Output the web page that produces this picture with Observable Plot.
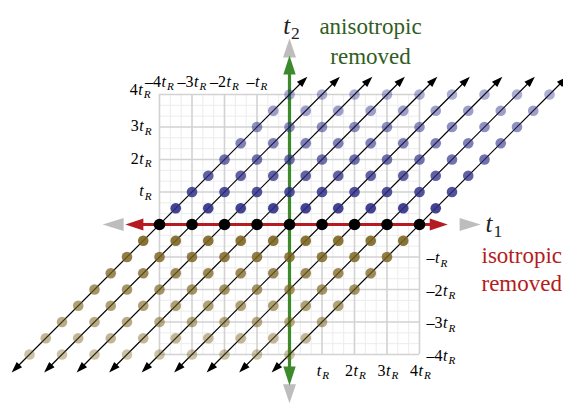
<!DOCTYPE html>
<html><head><meta charset="utf-8">
<script src="https://cdn.jsdelivr.net/npm/d3@7"></script>
<script src="https://cdn.jsdelivr.net/npm/@observablehq/plot@0.6"></script>
<style>html,body{margin:0;padding:0;background:#fff;overflow:hidden}</style>
</head><body><div id="chart"></div>
<script>
// ---- data ----
const lineOffsets = [-4, -3, -2, -1, 0, 1, 2, 3, 4];
const steps = [-4, -3.5, -3, -2.5, -2, -1.5, -1, -0.5, 0, 0.5, 1, 1.5, 2, 2.5, 3, 3.5, 4];
const gridMajor = [-4, -3, -2, -1, 0, 1, 2, 3, 4];
const gridMinor = d3.range(-12, 13).filter(i => i % 3 !== 0).map(i => i / 3);
const leftTickValues = [1, 2, 3, 4];
const leftTickLabels = ["t_R", "2t_R", "3t_R", "4t_R"];
const topTickValues = [-4, -3, -2, -1];
const topTickLabels = ["–4t_R", "–3t_R", "–2t_R", "–t_R"];
const rightTickValues = [-1, -2, -3, -4];
const rightTickLabels = ["–t_R", "–2t_R", "–3t_R", "–4t_R"];
const bottomTickValues = [1, 2, 3, 4];
const bottomTickLabels = ["t_R", "2t_R", "3t_R", "4t_R"];
const lineReach = 4.55;
const isoAxis = [-5.05, 4.87];
const isoGrey = [-5.75, 5.88];
const anisoAxis = [-4.95, 5.2];
const anisoGrey = [-5.5, 5.72];

// ---- derived tables ----
const points = lineOffsets.flatMap(k => steps.map(s => ({k, s, t1: k + s, t2: s})));
const lattice = points.filter(d => d.s !== 0);
const origins = points.filter(d => d.s === 0);

const BLUE = "#2e2e85", OLIVE = "#7a6420", RED = "#b41c22", GREEN = "#3d8a2c", GREY = "#bdbdbd";
const SERIF = "Liberation Serif";

function head(ux, uy, len, hw) {
  return {draw(ctx) {
    const bx = -ux * len, by = -uy * len, px = -uy * hw, py = ux * hw;
    ctx.moveTo(0, 0); ctx.lineTo(bx + px, by + py); ctx.lineTo(bx - px, by - py); ctx.closePath();
  }};
}
const R2 = Math.SQRT1_2;
const headUR = head(R2, -R2, 11, 3.8), headDL = head(-R2, R2, 11, 3.8);
function headDot(rows, sym, fill) {
  return Plot.dot(rows, {x: "x", y: "y", r: 1, symbol: sym, fill, stroke: "none"});
}
const d = 0.15;

const unit = 32.5;
const plot = Plot.plot({
  width: 563, height: 406,
  marginTop: 0, marginRight: 0, marginBottom: 0, marginLeft: 0,
  x: {domain: [-289 / unit, 274 / unit], axis: null},
  y: {domain: [-182 / unit, 224 / unit], axis: null},
  opacity: {type: "identity"},
  style: {background: "#fff"},
  marks: [
    // grid
    Plot.ruleX(gridMinor, {x: v => v, y1: -4, y2: 4, stroke: "#ececec", strokeWidth: 1}),
    Plot.ruleY(gridMinor, {y: v => v, x1: -4, x2: 4, stroke: "#ececec", strokeWidth: 1}),
    Plot.ruleX(gridMajor, {x: v => v, y1: -4, y2: 4, stroke: "#d2d2d2", strokeWidth: 1.6}),
    Plot.ruleY(gridMajor, {y: v => v, x1: -4, x2: 4, stroke: "#d2d2d2", strokeWidth: 1.6}),
    // grey axis heads
    headDot([{x: isoGrey[0], y: 0}], head(-1, 0, 21, 6.5), GREY),
    headDot([{x: isoGrey[1], y: 0}], head(1, 0, 21, 6.5), GREY),
    headDot([{x: 0, y: anisoGrey[1]}], head(0, -1, 19, 6.5), GREY),
    headDot([{x: 0, y: anisoGrey[0]}], head(0, 1, 19, 6.5), GREY),
    // isotropic (red) axis
    Plot.ruleY([0], {x1: isoAxis[0] + 0.45, x2: isoAxis[1] - 0.45, stroke: RED, strokeWidth: 3}),
    headDot([{x: isoAxis[0], y: 0}], head(-1, 0, 18, 6), RED),
    headDot([{x: isoAxis[1], y: 0}], head(1, 0, 18, 6), RED),
    // anisotropic (green) axis
    Plot.ruleX([0], {y1: anisoAxis[0] + 0.45, y2: anisoAxis[1] - 0.45, stroke: GREEN, strokeWidth: 3.2}),
    headDot([{x: 0, y: anisoAxis[1]}], head(0, -1, 19, 6.2), GREEN),
    headDot([{x: 0, y: anisoAxis[0]}], head(0, 1, 19, 6.2), GREEN),
    // diagonal lines
    Plot.link(lineOffsets, {
      x1: k => k - lineReach + d, y1: -lineReach + d,
      x2: k => k + lineReach - d, y2: lineReach - d,
      stroke: "#000", strokeWidth: 1.2
    }),
    headDot(lineOffsets.map(k => ({x: k + lineReach, y: lineReach})), headUR, "#000"),
    headDot(lineOffsets.map(k => ({x: k - lineReach, y: -lineReach})), headDL, "#000"),
    // lattice points
    Plot.dot(lattice, {
      x: "t1", y: "t2", r: 5.3, stroke: "none",
      fill: p => p.s > 0 ? BLUE : OLIVE,
      fillOpacity: p => 0.97 - 0.145 * Math.abs(p.s)
    }),
    Plot.dot(origins, {x: "t1", y: "t2", r: 5.8, fill: "#000", stroke: "none"}),
    // tick labels
    Plot.text(leftTickLabels, {x: -4, y: (t, i) => leftTickValues[i], text: t => t, textAnchor: "end", dx: -8, dy: -1, fontSize: 16, fontFamily: SERIF, fill: "#000", filter: (t, i) => i < 3}),
    Plot.text(leftTickLabels, {x: -4, y: (t, i) => leftTickValues[i], text: t => t, textAnchor: "end", dx: -9, dy: -5, fontSize: 16, fontFamily: SERIF, fill: "#000", filter: (t, i) => i === 3}),
    Plot.text(topTickLabels, {x: (t, i) => topTickValues[i], y: 4, text: t => t, textAnchor: "middle", dx: 0, dy: -13, fontSize: 16, fontFamily: SERIF, fill: "#000"}),
    Plot.text(rightTickLabels, {x: 4, y: (t, i) => rightTickValues[i], text: t => t, textAnchor: "start", dx: 7, dy: 1, fontSize: 16, fontFamily: SERIF, fill: "#000"}),
    Plot.text(bottomTickLabels, {x: (t, i) => bottomTickValues[i], y: -4, text: t => t, textAnchor: "middle", dx: 1, dy: 16, fontSize: 16, fontFamily: SERIF, fill: "#000"}),
    // axis names
    Plot.text(["t_2"], {x: 0, y: anisoGrey[1], text: t => t, textAnchor: "middle", dx: 2, dy: -13, fontSize: 25, fontFamily: SERIF, fill: "#222"}),
    Plot.text(["t_1"], {x: isoGrey[1], y: 0, text: t => t, textAnchor: "start", dx: 5, dy: -1, fontSize: 25, fontFamily: SERIF, fill: "#222"}),
    Plot.text(["anisotropic\nremoved"], {frameAnchor: "top-left", text: t => t, textAnchor: "middle", lineAnchor: "top", lineHeight: 1.32, dx: 370, dy: 12, fontSize: 23, fontFamily: SERIF, fill: "#2f5e22"}),
    Plot.text(["isotropic\nremoved"], {frameAnchor: "top-left", text: t => t, textAnchor: "start", lineAnchor: "top", lineHeight: 1.22, dx: 481, dy: 243, fontSize: 23, fontFamily: SERIF, fill: RED})
  ]
});

// format "t_X" labels: italic t with subscript
const NS = "http://www.w3.org/2000/svg";
plot.querySelectorAll("text").forEach(el => {
  const m = el.textContent.match(/^(.*)t_(\w)$/);
  if (!m || el.querySelector("tspan")) return;
  const [, pre, sub] = m;
  el.textContent = "";
  if (pre) { const a = document.createElementNS(NS, "tspan"); a.textContent = pre; el.appendChild(a); }
  const b = document.createElementNS(NS, "tspan"); b.textContent = "t"; b.setAttribute("font-style", "italic"); b.setAttribute("dx", pre ? "0.5" : "0"); el.appendChild(b);
  const c = document.createElementNS(NS, "tspan"); c.textContent = sub;
  c.setAttribute("font-size", "70%"); c.setAttribute("dy", "0.32em"); c.setAttribute("dx", "1");
  if (sub === "R") c.setAttribute("font-style", "italic");
  el.appendChild(c);
});
document.getElementById("chart").appendChild(plot);
</script>
</body></html>
